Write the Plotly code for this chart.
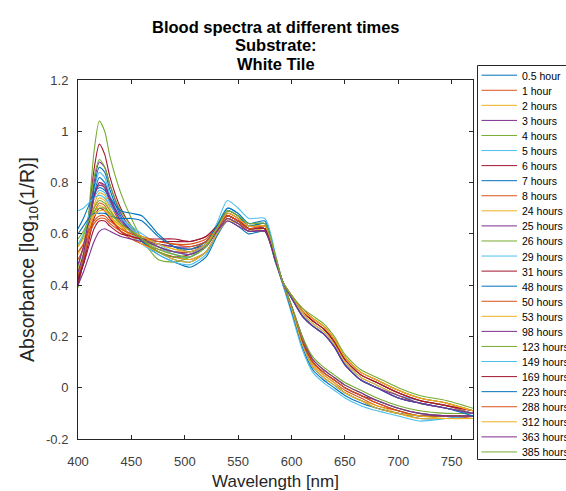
import plotly.graph_objects as go

# ---------------- data ----------------
wavelength = [400, 405, 410, 415, 420, 425, 430, 440, 450, 460, 475, 490, 505, 520, 530, 540,
              550, 560, 575, 585, 592, 600, 610, 620, 630, 640, 650, 665, 680, 700, 720, 745, 770]

labels = ["0.5 hour", "1 hour", "2 hours", "3 hours", "4 hours", "5 hours", "6 hours", "7 hours",
          "8 hours", "24 hours", "25 hours", "26 hours", "29 hours", "31 hours", "48 hours",
          "50 hours", "53 hours", "98 hours", "123 hours", "149 hours", "169 hours", "223 hours",
          "288 hours", "312 hours", "363 hours", "385 hours"]

title_lines = ["Blood spectra at different times", "Substrate:", "White Tile"]

h0_5 = [0.42, 0.50, 0.62, 0.75, 0.82, 0.80, 0.74, 0.66, 0.61, 0.57, 0.52, 0.49, 0.47, 0.51, 0.59, 0.65,
        0.63, 0.60, 0.61, 0.49, 0.40, 0.30, 0.16, 0.07, 0.03, 0.00, -0.03, -0.06, -0.08, -0.10, -0.12, -0.12, -0.11]
h1 = [0.41, 0.49, 0.61, 0.74, 0.80, 0.78, 0.72, 0.64, 0.59, 0.56, 0.53, 0.51, 0.50, 0.53, 0.60, 0.66,
      0.64, 0.61, 0.61, 0.49, 0.41, 0.31, 0.18, 0.09, 0.05, 0.02, -0.01, -0.04, -0.07, -0.09, -0.11, -0.11, -0.12]
h2 = [0.43, 0.50, 0.60, 0.71, 0.76, 0.75, 0.70, 0.63, 0.59, 0.56, 0.53, 0.51, 0.50, 0.53, 0.60, 0.65,
      0.64, 0.61, 0.61, 0.49, 0.41, 0.31, 0.18, 0.09, 0.05, 0.02, -0.02, -0.05, -0.07, -0.10, -0.12, -0.12, -0.12]
h3 = [0.40, 0.49, 0.63, 0.80, 0.88, 0.86, 0.79, 0.68, 0.62, 0.58, 0.55, 0.53, 0.53, 0.56, 0.62, 0.67,
      0.65, 0.62, 0.62, 0.50, 0.41, 0.31, 0.18, 0.10, 0.06, 0.03, 0.00, -0.03, -0.05, -0.08, -0.10, -0.11, -0.11]
h4 = [0.39, 0.50, 0.68, 0.92, 1.04, 1.00, 0.90, 0.76, 0.66, 0.58, 0.50, 0.49, 0.51, 0.56, 0.63, 0.69,
      0.67, 0.63, 0.63, 0.50, 0.41, 0.32, 0.20, 0.11, 0.07, 0.04, 0.01, -0.02, -0.05, -0.08, -0.10, -0.11, -0.11]
h5 = [0.45, 0.52, 0.64, 0.77, 0.84, 0.82, 0.75, 0.66, 0.60, 0.56, 0.52, 0.49, 0.48, 0.52, 0.60, 0.66,
      0.64, 0.61, 0.62, 0.49, 0.40, 0.29, 0.15, 0.06, 0.02, -0.01, -0.04, -0.07, -0.09, -0.11, -0.13, -0.12, -0.11]
h6 = [0.40, 0.50, 0.66, 0.85, 0.95, 0.91, 0.82, 0.70, 0.63, 0.58, 0.53, 0.51, 0.52, 0.56, 0.63, 0.68,
      0.66, 0.62, 0.62, 0.50, 0.41, 0.31, 0.19, 0.10, 0.06, 0.03, 0.00, -0.03, -0.06, -0.09, -0.11, -0.11, -0.11]
h7 = [0.42, 0.50, 0.63, 0.78, 0.86, 0.84, 0.77, 0.67, 0.61, 0.57, 0.53, 0.50, 0.49, 0.53, 0.60, 0.66,
      0.64, 0.61, 0.61, 0.49, 0.41, 0.30, 0.17, 0.08, 0.04, 0.01, -0.02, -0.05, -0.08, -0.10, -0.11, -0.11, -0.11]
h8 = [0.44, 0.50, 0.59, 0.68, 0.72, 0.71, 0.67, 0.61, 0.58, 0.56, 0.54, 0.53, 0.53, 0.55, 0.61, 0.66,
      0.64, 0.62, 0.62, 0.50, 0.41, 0.31, 0.19, 0.10, 0.06, 0.03, 0.00, -0.03, -0.06, -0.09, -0.11, -0.11, -0.11]
h24 = [0.46, 0.52, 0.61, 0.70, 0.74, 0.73, 0.69, 0.63, 0.59, 0.56, 0.53, 0.50, 0.49, 0.53, 0.60, 0.66,
       0.64, 0.61, 0.62, 0.50, 0.41, 0.31, 0.17, 0.08, 0.04, 0.01, -0.02, -0.05, -0.08, -0.10, -0.11, -0.12, -0.12]
h25 = [0.40, 0.45, 0.51, 0.57, 0.61, 0.62, 0.61, 0.59, 0.58, 0.57, 0.56, 0.55, 0.54, 0.56, 0.61, 0.65,
       0.63, 0.61, 0.61, 0.50, 0.41, 0.32, 0.20, 0.11, 0.07, 0.04, 0.01, -0.02, -0.05, -0.08, -0.10, -0.11, -0.11]
h26 = [0.47, 0.55, 0.67, 0.82, 0.89, 0.86, 0.79, 0.69, 0.63, 0.58, 0.53, 0.51, 0.51, 0.55, 0.62, 0.67,
       0.65, 0.62, 0.62, 0.50, 0.41, 0.32, 0.20, 0.12, 0.08, 0.05, 0.02, -0.01, -0.04, -0.07, -0.09, -0.10, -0.10]
h29 = [0.56, 0.60, 0.67, 0.74, 0.77, 0.76, 0.72, 0.66, 0.62, 0.59, 0.55, 0.52, 0.51, 0.55, 0.63, 0.70,
       0.68, 0.64, 0.64, 0.51, 0.41, 0.35, 0.29, 0.25, 0.22, 0.17, 0.10, 0.04, 0.01, -0.03, -0.05, -0.07, -0.10]
h31 = [0.42, 0.48, 0.57, 0.66, 0.70, 0.69, 0.66, 0.61, 0.59, 0.58, 0.57, 0.57, 0.57, 0.59, 0.63, 0.67,
       0.65, 0.62, 0.62, 0.50, 0.41, 0.36, 0.30, 0.26, 0.23, 0.18, 0.11, 0.05, 0.02, -0.02, -0.05, -0.07, -0.09]
h48 = [0.62, 0.66, 0.71, 0.76, 0.78, 0.77, 0.74, 0.69, 0.68, 0.67, 0.60, 0.55, 0.53, 0.56, 0.63, 0.70,
       0.68, 0.64, 0.65, 0.51, 0.41, 0.35, 0.28, 0.24, 0.21, 0.16, 0.09, 0.03, 0.00, -0.04, -0.06, -0.08, -0.10]
h50 = [0.50, 0.54, 0.59, 0.64, 0.66, 0.66, 0.64, 0.61, 0.59, 0.58, 0.57, 0.56, 0.56, 0.58, 0.63, 0.68,
       0.66, 0.63, 0.63, 0.51, 0.41, 0.36, 0.30, 0.26, 0.23, 0.18, 0.11, 0.05, 0.02, -0.02, -0.05, -0.07, -0.10]
h53 = [0.52, 0.56, 0.62, 0.68, 0.71, 0.70, 0.67, 0.62, 0.60, 0.58, 0.56, 0.54, 0.54, 0.57, 0.63, 0.69,
       0.67, 0.63, 0.64, 0.51, 0.41, 0.35, 0.29, 0.25, 0.22, 0.17, 0.10, 0.04, 0.01, -0.03, -0.06, -0.08, -0.10]
h98 = [0.45, 0.52, 0.63, 0.74, 0.80, 0.79, 0.74, 0.66, 0.61, 0.58, 0.56, 0.55, 0.55, 0.57, 0.62, 0.67,
       0.65, 0.62, 0.62, 0.50, 0.41, 0.35, 0.28, 0.24, 0.21, 0.16, 0.09, 0.03, 0.00, -0.03, -0.06, -0.08, -0.10]
h123 = [0.55, 0.59, 0.65, 0.70, 0.73, 0.72, 0.69, 0.64, 0.61, 0.58, 0.55, 0.53, 0.52, 0.56, 0.63, 0.69,
        0.67, 0.63, 0.64, 0.51, 0.41, 0.36, 0.30, 0.27, 0.24, 0.19, 0.12, 0.06, 0.03, -0.01, -0.04, -0.06, -0.09]
h149 = [0.69, 0.70, 0.72, 0.74, 0.75, 0.74, 0.71, 0.66, 0.63, 0.60, 0.56, 0.53, 0.52, 0.56, 0.64, 0.73,
        0.70, 0.66, 0.66, 0.52, 0.41, 0.35, 0.28, 0.24, 0.21, 0.16, 0.09, 0.03, 0.00, -0.04, -0.06, -0.08, -0.10]
h169 = [0.43, 0.48, 0.55, 0.62, 0.65, 0.65, 0.63, 0.60, 0.59, 0.58, 0.58, 0.58, 0.57, 0.59, 0.63, 0.67,
        0.65, 0.62, 0.62, 0.50, 0.41, 0.36, 0.30, 0.26, 0.23, 0.18, 0.11, 0.05, 0.02, -0.02, -0.05, -0.07, -0.09]
h223 = [0.60, 0.63, 0.66, 0.68, 0.68, 0.68, 0.67, 0.66, 0.66, 0.65, 0.59, 0.55, 0.54, 0.57, 0.63, 0.69,
        0.67, 0.63, 0.64, 0.51, 0.41, 0.35, 0.28, 0.24, 0.21, 0.16, 0.09, 0.03, 0.00, -0.04, -0.06, -0.08, -0.11]
h288 = [0.53, 0.56, 0.61, 0.65, 0.67, 0.67, 0.65, 0.62, 0.60, 0.59, 0.57, 0.56, 0.55, 0.57, 0.62, 0.67,
        0.65, 0.62, 0.63, 0.51, 0.41, 0.36, 0.31, 0.27, 0.24, 0.19, 0.12, 0.06, 0.03, -0.01, -0.04, -0.06, -0.09]
h312 = [0.55, 0.58, 0.63, 0.67, 0.69, 0.69, 0.67, 0.63, 0.61, 0.59, 0.56, 0.54, 0.53, 0.56, 0.62, 0.68,
        0.66, 0.63, 0.63, 0.51, 0.41, 0.36, 0.30, 0.27, 0.24, 0.19, 0.12, 0.06, 0.03, -0.01, -0.04, -0.06, -0.09]
h363 = [0.48, 0.55, 0.65, 0.75, 0.79, 0.78, 0.73, 0.65, 0.61, 0.58, 0.55, 0.53, 0.52, 0.55, 0.61, 0.66,
        0.64, 0.61, 0.61, 0.50, 0.41, 0.35, 0.28, 0.24, 0.21, 0.16, 0.09, 0.03, 0.00, -0.04, -0.06, -0.08, -0.10]
h385 = [0.58, 0.61, 0.65, 0.69, 0.70, 0.70, 0.68, 0.64, 0.61, 0.58, 0.54, 0.52, 0.51, 0.55, 0.62, 0.69,
        0.67, 0.64, 0.64, 0.51, 0.41, 0.36, 0.31, 0.28, 0.25, 0.20, 0.13, 0.07, 0.04, 0.00, -0.03, -0.05, -0.08]

series = [h0_5, h1, h2, h3, h4, h5, h6, h7, h8, h24, h25, h26, h29, h31, h48, h50, h53, h98,
          h123, h149, h169, h223, h288, h312, h363, h385]

x_ticks = [400, 450, 500, 550, 600, 650, 700, 750]
x_ticklabels = ["400", "450", "500", "550", "600", "650", "700", "750"]
y_ticks = [-0.2, 0, 0.2, 0.4, 0.6, 0.8, 1.0, 1.2]
y_ticklabels = ["-0.2", "0", "0.2", "0.4", "0.6", "0.8", "1", "1.2"]

# MATLAB default colour order
palette = ["#0072BD", "#D95319", "#EDB120", "#7E2F8E", "#77AC30", "#4DBEEE", "#A2142F"]

for s in series:
    assert len(s) == len(wavelength)

# ---------------- figure ----------------
W, H = 566, 491
L, R, T, B = 78, 473, 80, 439
FONT = "Arial, 'Liberation Sans', Helvetica, sans-serif"
AX = "#262626"

fig = go.Figure()
for i, (lab, ys) in enumerate(zip(labels, series)):
    fig.add_trace(go.Scatter(
        x=wavelength, y=ys, mode="lines", name=lab,
        line=dict(color=palette[i % len(palette)], width=1.1, shape="spline", smoothing=0.7),
        showlegend=False, hoverinfo="skip"))

fig.update_layout(
    width=W, height=H,
    margin=dict(l=L, r=W - R, t=T, b=H - B, pad=0, autoexpand=False),
    paper_bgcolor="white", plot_bgcolor="white",
    font=dict(family=FONT, color=AX),
)

fig.update_xaxes(
    range=[400, 770], tickmode="array", tickvals=x_ticks, ticktext=x_ticklabels,
    ticks="inside", ticklen=4, tickwidth=1, tickcolor=AX, automargin=False,
    showline=True, linecolor=AX, linewidth=1, mirror="ticks",
    showgrid=False, zeroline=False, ticklabelstandoff=10,
    tickfont=dict(size=13, color="#404040", family=FONT),
    title=dict(text="Wavelength [nm]", font=dict(size=17, color="#262626", family=FONT), standoff=8))

fig.update_yaxes(
    range=[-0.2, 1.2], tickmode="array", tickvals=y_ticks, ticktext=y_ticklabels,
    ticks="inside", ticklen=4, tickwidth=1, tickcolor=AX, automargin=False,
    showline=True, linecolor=AX, linewidth=1, mirror="ticks",
    showgrid=False, zeroline=False, ticklabelstandoff=6,
    tickfont=dict(size=13, color="#404040", family=FONT),
    title=dict(text="Absorbance [log<sub>10</sub>(1/R)]",
               font=dict(size=19.5, color="#262626", family=FONT), standoff=6))

# ---------------- helpers: pixel -> paper ----------------
def px_x(px):
    return (px - L) / (R - L)

def px_y(py):
    return (B - py) / (B - T)

annotations = []
# title (three bold lines centred over the axes)
for k, line in enumerate(title_lines):
    annotations.append(dict(xref="paper", yref="paper", x=0.5, y=px_y(27 + k * 18.3),
                            xanchor="center", yanchor="middle", showarrow=False,
                            text="<b>" + line + "</b>",
                            font=dict(size=16.5, color="black", family=FONT)))

# legend box outside the axes, MATLAB style
shapes = [dict(type="rect", xref="paper", yref="paper",
               x0=px_x(477.5), x1=px_x(620), y0=px_y(459.5), y1=px_y(65.5),
               line=dict(color=AX, width=1), fillcolor="white", layer="above")]
for i, lab in enumerate(labels):
    yy = 75.7 + i * 15.07
    shapes.append(dict(type="line", xref="paper", yref="paper",
                       x0=px_x(481.5), x1=px_x(517), y0=px_y(yy - 0.5), y1=px_y(yy - 0.5),
                       line=dict(color=palette[i % len(palette)], width=1), layer="above"))
    annotations.append(dict(xref="paper", yref="paper", x=px_x(519.5), y=px_y(yy),
                            xanchor="left", yanchor="middle", showarrow=False, text=lab,
                            font=dict(size=10.5, color="black", family=FONT)))
fig.update_layout(shapes=shapes, annotations=annotations)

fig.write_html("out.html", config={"displayModeBar": False},
               post_script="document.body.style.margin='0';")
